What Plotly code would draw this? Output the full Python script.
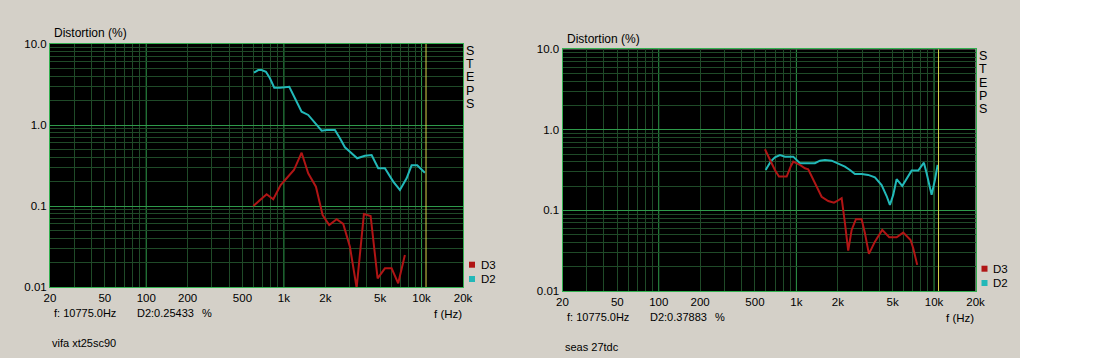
import math
import plotly.graph_objects as go

W, H = 1105, 358

# ---------------- data ----------------
left_d2_f = [606, 651, 689, 741, 792, 851, 936, 1018, 1094, 1203, 1345, 1502, 1680, 1880, 2044,
             2348, 2553, 2775, 3017, 3410, 3878, 4337, 4844, 5418, 6226, 6962, 7788, 8465, 9299, 10575]
left_d2 = [4.42, 4.77, 4.77, 4.55, 3.77, 2.89, 2.89, 2.92, 2.97, 2.14, 1.46, 1.33, 1.05, 0.85, 0.87,
           0.87, 0.685, 0.53, 0.468, 0.388, 0.418, 0.425, 0.292, 0.292, 0.2, 0.158, 0.22, 0.318, 0.318, 0.258]
left_d3_f = [599, 670, 749, 837, 947, 1047, 1183, 1345, 1502, 1709, 1911, 2135, 2416, 2698, 3017,
             3376, 3813, 4266, 4795, 5418, 6060, 6767, 7568]
left_d3 = [0.1, 0.1186, 0.1394, 0.121, 0.1817, 0.22, 0.278, 0.455, 0.253, 0.173, 0.0774, 0.0583,
           0.0686, 0.06, 0.0315, 0.0098, 0.0796, 0.0753, 0.0128, 0.017, 0.017, 0.0111, 0.0248]

right_d2_f = [598, 650, 698, 760, 826, 949, 1061, 1219, 1363, 1483, 1612, 1803, 2013, 2252, 2448,
              2662, 2978, 3325, 3719, 4159, 4523, 4779, 5050, 5346, 5871, 6318, 6871, 7673, 8438,
              8831, 9598, 10144, 10612]
right_d2 = [0.318, 0.403, 0.457, 0.488, 0.465, 0.465, 0.385, 0.385, 0.385, 0.415, 0.423, 0.415, 0.385,
            0.35, 0.318, 0.284, 0.284, 0.276, 0.258, 0.207, 0.151, 0.117, 0.156, 0.244, 0.201, 0.251,
            0.312, 0.312, 0.392, 0.29, 0.156, 0.239, 0.367]
right_d3_f = [591, 643, 698, 747, 850, 908, 949, 1061, 1154, 1219, 1363, 1525, 1703, 1874, 1980, 2132,
              2252, 2379, 2519, 2706, 2978, 3147, 3364, 3719, 4201, 4724, 5346, 5970, 6756, 7057, 7544]
right_d3 = [0.574, 0.423, 0.318, 0.263, 0.263, 0.35, 0.403, 0.367, 0.334, 0.324, 0.2175, 0.148, 0.131,
            0.125, 0.131, 0.1417, 0.0694, 0.0317, 0.0573, 0.0778, 0.0778, 0.0521, 0.0289, 0.041,
            0.0573, 0.0465, 0.0465, 0.053, 0.043, 0.034, 0.0211]

x_tick_vals = [20, 50, 100, 200, 500, 1000, 2000, 5000, 10000, 20000]
x_tick_text = ["20", "50", "100", "200", "500", "1k", "2k", "5k", "10k", "20k"]
x_dark_grid = [20, 30, 40, 50, 60, 70, 80, 90, 200, 300, 400, 500, 600, 700, 800, 900,
               2000, 3000, 4000, 5000, 6000, 7000, 8000, 9000, 20000]
x_decades = [100, 1000, 10000]
y_tick_vals = [0.01, 0.1, 1, 10]
y_tick_text = ["0.01", "0.1", "1.0", "10.0"]
y_minor_vals = [0.02, 0.03, 0.04, 0.05, 0.06, 0.07, 0.08, 0.09,
                0.2, 0.3, 0.4, 0.5, 0.6, 0.7, 0.8, 0.9,
                2, 3, 4, 5, 6, 7, 8, 9]

cursor_f = 10775.0
panel_names = ["vifa xt25sc90", "seas 27tdc"]
cursor_d2 = ["D2:0.25433", "D2:0.37883"]
side_letters = ["S", "T", "E", "P", "S"]

# ---------------- styles ----------------
BG = "#d4d0c8"
GRID_DARK = "#1f4a28"
GRID_BRIGHT = "#2e9a4a"
BORDER = "#33b050"
D2_COL = "#22b8b8"
D3_COL = "#b01515"
YELLOW = "#d4d44c"
FONT = "Liberation Sans, Arial, sans-serif"


def px(x):
    return x / W


def py(y):
    return 1 - y / H


# plot area boxes in pixels (left, top, right, bottom)
boxes = [(50, 44, 463, 287), (562.5, 49.3, 975.5, 291)]

fig = go.Figure()

series = [
    (left_d3_f, left_d3, left_d2_f, left_d2),
    (right_d3_f, right_d3, right_d2_f, right_d2),
]

for i, (f3, v3, f2, v2) in enumerate(series):
    xa = "x" if i == 0 else "x2"
    ya = "y" if i == 0 else "y2"
    fig.add_trace(go.Scatter(x=f2, y=v2, mode="lines", line=dict(color=D2_COL, width=2),
                             xaxis=xa, yaxis=ya, showlegend=False, hoverinfo="skip"))
    fig.add_trace(go.Scatter(x=f3, y=v3, mode="lines", line=dict(color=D3_COL, width=2),
                             xaxis=xa, yaxis=ya, showlegend=False, hoverinfo="skip"))

layout = dict(
    width=W, height=H, autosize=False,
    margin=dict(l=0, r=0, t=0, b=0, pad=0, autoexpand=False),
    paper_bgcolor=BG, plot_bgcolor="black",
    font=dict(family=FONT, size=11, color="black"),
    showlegend=False,
)

shapes = [dict(type="rect", xref="paper", yref="paper", x0=px(1020), x1=1, y0=0, y1=1,
               fillcolor="white", line=dict(width=0), layer="below")]
annotations = []


def txt(x, y, s, xanchor="left", size=11):
    annotations.append(dict(xref="paper", yref="paper", x=px(x), y=py(y), text=s,
                            showarrow=False, xanchor=xanchor, yanchor="middle",
                            font=dict(family=FONT, size=size, color="black")))


for i, (l, t, r, b) in enumerate(boxes):
    sfx = "" if i == 0 else "2"
    xaxis = dict(
        type="log", range=[math.log10(20), math.log10(20000)],
        domain=[px(l), px(r)], anchor="y" + sfx, automargin=False,
        tickmode="array", tickvals=x_tick_vals, ticktext=x_tick_text,
        showgrid=False,
        minor=dict(tickmode="array", tickvals=x_dark_grid, showgrid=True,
                   gridcolor=GRID_DARK, gridwidth=1, ticks=""),
        ticks="", showline=True, mirror=True, linecolor=BORDER, linewidth=1,
        zeroline=False, fixedrange=True, tickfont=dict(size=11.5, color="black"),
    )
    yaxis = dict(
        type="log", range=[-2, 1],
        domain=[py(b), py(t)], anchor="x" + sfx, automargin=False,
        tickmode="array", tickvals=y_tick_vals, ticktext=y_tick_text,
        showgrid=True, gridcolor=GRID_BRIGHT, gridwidth=1,
        minor=dict(tickmode="array", tickvals=y_minor_vals, showgrid=True,
                   gridcolor=GRID_DARK, gridwidth=1, ticks=""),
        ticks="", showline=True, mirror=True, linecolor=BORDER, linewidth=1,
        zeroline=False, fixedrange=True, tickfont=dict(size=11.5, color="black"),
    )
    layout["xaxis" + sfx] = xaxis
    layout["yaxis" + sfx] = yaxis

    xr = "x" + sfx
    yr = "y" + sfx + " domain"
    for d in x_decades:
        shapes.append(dict(type="line", xref=xr, yref=yr, x0=d, x1=d, y0=0, y1=1,
                           line=dict(color=GRID_BRIGHT, width=1), layer="below"))
    shapes.append(dict(type="line", xref=xr, yref=yr, x0=cursor_f, x1=cursor_f, y0=0, y1=1,
                       line=dict(color=YELLOW, width=1), layer="above"))

    txt(l + 2, t - 10.5, "Distortion (%)", size=12)
    txt(l + 2, b + 26.3, "f: %.1fHz" % cursor_f)
    txt(l + 85, b + 26.3, cursor_d2[i])
    txt(l + 150, b + 26.3, "%")
    txt(l, b + 55.5, panel_names[i])
    txt(r + 0.5, b + 26.5, "f (Hz)", xanchor="right", size=11.5)
    for k, letter in enumerate(side_letters):
        annotations.append(dict(xref="paper", yref="paper", x=px(r + 7), y=py(t + 6.8 + 13.3 * k),
                                text=letter, showarrow=False, xanchor="center", yanchor="middle",
                                font=dict(family=FONT, size=12.5, color="black")))
    # legend
    for j, (name, col) in enumerate([("D3", D3_COL), ("D2", D2_COL)]):
        cy = b - 22.3 + j * 14.3
        shapes.append(dict(type="rect", xref="paper", yref="paper",
                           x0=px(r + 6), x1=px(r + 12), y0=py(cy + 3), y1=py(cy - 3),
                           fillcolor=col, line=dict(width=0), layer="above"))
        txt(r + 15.5, cy, name, size=11.5)

layout["shapes"] = shapes
layout["annotations"] = annotations
fig.update_layout(**layout)
fig.write_html("out.html", config={"displayModeBar": False},
               post_script="document.documentElement.style.overflow='hidden';"
                           "document.body.style.overflow='hidden';"
                           "document.body.style.margin='0';")
